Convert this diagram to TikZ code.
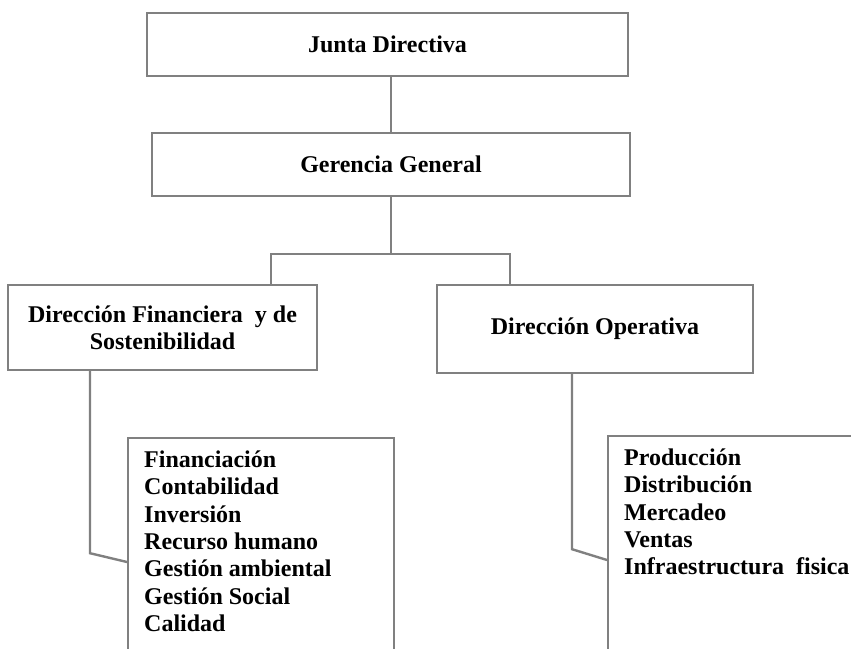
\documentclass[tikz,border=0pt]{standalone}
\usepackage{fontspec}
\setmainfont{Liberation Serif}
\usepackage{tikz}

\tikzset{
  caja/.style={draw=gray, line width=1.2pt, align=center, inner sep=0pt,
    font=\fontsize{12}{13.5}\selectfont\bfseries},
  lista/.style={draw=gray, line width=1.2pt, anchor=north west,
    inner xsep=8pt, inner ysep=5pt,
    font=\fontsize{12}{13.7}\selectfont\bfseries},
  linea/.style={draw=gray, line width=1.2pt}
}

\begin{document}
\begin{tikzpicture}[x=0.5pt,y=-0.5pt]
 \path[use as bounding box] (0,0) rectangle (851,648);
 \clip (0,0) rectangle (851,648);

 % niveles superiores
 \node[caja, minimum width=240.5pt, minimum height=31.5pt] (junta) at (387.5,44.5) {Junta Directiva};
 \node[caja, minimum width=239pt, minimum height=31.5pt] (ger) at (391,164.5) {Gerencia General};

 % direcciones
 \node[caja, minimum width=154.5pt, minimum height=42.5pt] (fin) at (162.5,327.5)
   {Dirección Financiera~ y de\\ Sostenibilidad};
 \node[caja, minimum width=158pt, minimum height=44pt] (ope) at (595,329) {Dirección Operativa};

 % areas
 \node[lista] (lfin) at (127,437)
   {\parbox[t][120pt][t]{117pt}{\strut Financiación\\ Contabilidad\\ Inversión\\ Recurso humano\\
     Gestión ambiental\\ Gestión Social\\ Calidad}};
 \node[lista] (lope) at (607,435)
   {\parbox[t][120pt][t]{130pt}{\strut Producción\\ Distribución\\ Mercadeo\\ Ventas\\
     Infraestructura~ fisica}};

 \draw[linea] (ger.north |- junta.south) -- (ger.north);
 \draw[linea] (ger.south) -- ++(0,57) coordinate (nodo);
 \draw[linea] ([xshift=54.25pt]fin.north) |- (nodo) -| ([xshift=-42.5pt]ope.north);

 \draw[linea] ([xshift=-36.25pt]fin.south) -- ++(0,182) -- ([yshift=-62.5pt]lfin.north west);
 \draw[linea] ([xshift=-11.5pt]ope.south) -- ++(0,175) -- ([yshift=-62.5pt]lope.north west);

\end{tikzpicture}
\end{document}
